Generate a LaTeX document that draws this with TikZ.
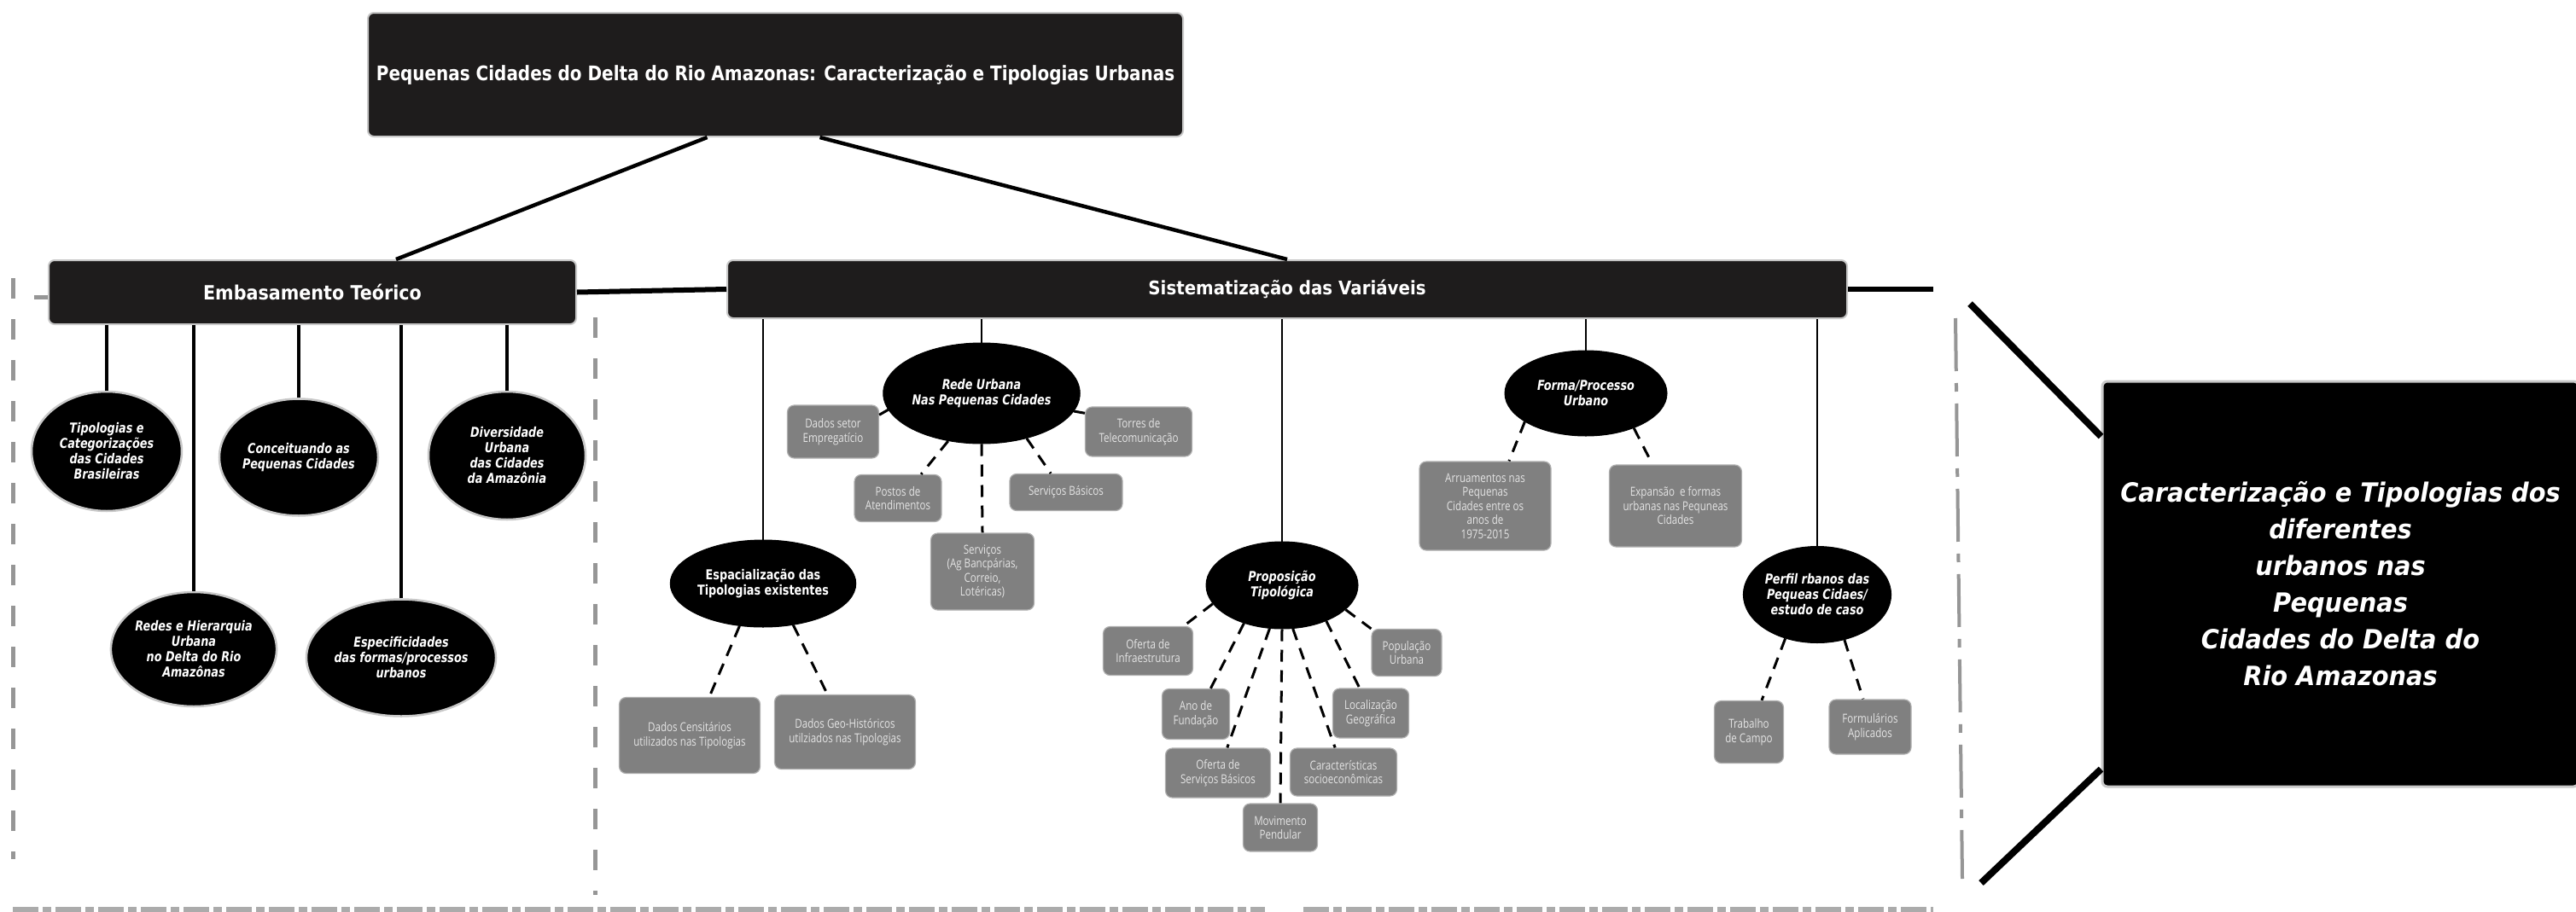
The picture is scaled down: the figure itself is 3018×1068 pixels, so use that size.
\documentclass[tikz,border=0pt]{standalone}
\usepackage{fontspec}
\setmainfont{DejaVu Sans}
\newfontfamily\hfont[FakeStretch=0.9]{DejaVu Sans}
\newfontfamily\tfont[FakeStretch=0.85]{DejaVu Sans}
\newfontfamily\efont[FakeStretch=0.8]{DejaVu Sans}
\newfontfamily\gfont[FakeStretch=0.8]{Open Sans}
\newfontfamily\rfont[FakeStretch=0.93]{DejaVu Sans}
\usetikzlibrary{shapes.geometric,calc}
\definecolor{boxdark}{RGB}{30,28,28}
\definecolor{outl}{RGB}{200,200,200}
\definecolor{gfill}{RGB}{128,128,128}
\definecolor{gline}{RGB}{175,175,175}
\definecolor{gtext}{RGB}{228,228,228}
\definecolor{dashgray}{RGB}{150,150,150}
\tikzset{
  hdr/.style={rectangle, draw=outl, line width=2pt, fill=boxdark, rounded corners=7pt, text=white, inner sep=0pt, align=center},
  ell/.style={ellipse, fill=black, draw=outl, line width=2.5pt, inner sep=0pt, text=white, align=center, font=\efont\bfseries\itshape\fontsize{16}{18}\selectfont},
  ellb/.style={ellipse, fill=black, draw=black, line width=1pt, inner sep=0pt, text=white, align=center, font=\efont\bfseries\itshape\fontsize{16}{18}\selectfont},
  gbox/.style={rectangle, rounded corners=8pt, fill=gfill, draw=gline, line width=1.2pt, text=gtext, inner sep=0pt, align=center, font=\gfont\fontsize{14.5}{16.5}\selectfont},
  conA/.style={line width=3.5pt, black},
  conB/.style={line width=2.5pt, black},
  dcon/.style={line width=3pt, black, dash pattern=on 14pt off 10pt},
  grayline/.style={line width=5pt, dashgray, dash pattern=on 24pt off 24pt}
}
\begin{document}
\begin{tikzpicture}[x=1pt,y=-1pt]
\clip (0,0) rectangle (3018,1068);
\fill[white] (0,0) rectangle (3018,1068);

% frame lines (decorative)
\draw[grayline] (15,326) -- (15,1007);
\draw[grayline] (697,372) -- (697,1049);
\draw[line width=4pt, dashgray, dash pattern=on 62pt off 14pt on 10pt off 14pt] (2291,373) -- (2299,1030);
\draw[line width=7pt, dashgray!80, dash pattern=on 30pt off 5pt on 10pt off 5pt] (15,1066) -- (1482,1066);
\draw[line width=7pt, dashgray!80, dash pattern=on 30pt off 5pt on 10pt off 5pt] (1527,1066) -- (2265,1066);

% main boxes
\node[hdr, minimum width=955pt, minimum height=145pt, font=\tfont\bfseries\fontsize{23.5}{27}\selectfont] (title) at (908.5,87.5)
  {Pequenas Cidades do Delta do Rio Amazonas: Caracterização e Tipologias Urbanas};
\node[hdr, minimum width=618pt, minimum height=75pt, font=\hfont\bfseries\fontsize{23}{27}\selectfont] (emb) at (366,342.5) {Embasamento Teórico};
\node[hdr, minimum width=1312pt, minimum height=68pt, font=\hfont\bfseries\fontsize{22}{26}\selectfont] (sis) at (1508,339) {Sistematização das Variáveis};

\node[rectangle, fill=black, draw=outl, line width=3pt, rounded corners=6pt, minimum width=558pt, minimum height=475pt, inner sep=0pt, text=white, align=center,
  font=\rfont\bfseries\itshape\fontsize{31}{43}\selectfont] (rbox) at (2742,684.5)
  {Caracterização e Tipologias dos\\diferentes\\urbanos nas\\Pequenas\\Cidades do Delta do\\Rio Amazonas};

% top connectors
\draw[line width=4.5pt] ($(title.south)+(-80,0)$) -- ($(emb.north)+(98,0)$);
\draw[line width=4.5pt] ($(title.south)+(52,0)$) -- (sis.north);
\draw[line width=6pt] (emb.east) -- (sis.west);
\coordinate (sisend) at (2265,339);
\draw[line width=6.5pt] (sis.east) -- (sisend);
\coordinate (embdash) at (40,348);
\draw[line width=5pt, dashgray] (emb.west |- embdash) -- (embdash);

% lines to right box
\coordinate (u1) at (2308,356);
\coordinate (l1) at (2321,1035);
\draw[line width=8pt] (u1) -- ($(rbox.north west)+(0,66)$);
\draw[line width=8pt] (l1) -- ($(rbox.south west)+(0,-22)$);

% Embasamento children
\node[ell, minimum width=176pt, minimum height=140pt] (e1) at (125,529) {Tipologias e\\Categorizações\\das Cidades\\Brasileiras};
\node[ell, minimum width=188pt, minimum height=134pt] (e2) at (227,761) {Redes e Hierarquia\\Urbana\\no Delta do Rio\\Amazônas};
\node[ell, minimum width=186pt, minimum height=137pt] (e3) at (350,536) {Conceituando as\\Pequenas Cidades};
\node[ell, minimum width=206pt, minimum height=137pt] (e4) at (470,771) {Especificidades\\das formas/processos\\urbanos};
\node[ell, minimum width=184pt, minimum height=150pt] (e5) at (594,534) {Diversidade\\Urbana\\das Cidades\\da Amazônia};
\foreach \n in {e1,e2,e3,e4,e5} \draw[conA] (\n.north) -- (\n.north |- emb.south);

% Sistematizacao children
\node[ellb, minimum width=184pt, minimum height=102pt, font=\efont\bfseries\fontsize{16}{18}\selectfont] (s1) at (894,684) {Espacialização das\\Tipologias existentes};
\node[ellb, minimum width=200pt, minimum height=118pt] (s2) at (1150,461) {Rede Urbana\\Nas Pequenas Cidades};
\node[ellb, minimum width=178pt, minimum height=102pt] (s3) at (1502,686) {Proposição\\Tipológica};
\node[ellb, minimum width=190pt, minimum height=100pt] (s4) at (1858,461) {Forma/Processo\\Urbano};
\node[ellb, minimum width=172pt, minimum height=113pt] (s5) at (2129,697) {Perfil rbanos das\\Pequeas Cidaes/\\estudo de caso};
\foreach \n in {s1,s2,s3,s4,s5} \draw[conB] (\n.north) -- (\n.north |- sis.south);

% gray boxes
\node[gbox, minimum width=107pt, minimum height=62pt] (g1) at (976,506) {Dados setor\\Empregatício};
\node[gbox, minimum width=125pt, minimum height=58pt] (g2) at (1334,506) {Torres de\\Telecomunicação};
\node[gbox, minimum width=102pt, minimum height=55pt] (g3) at (1052,584) {Postos de\\Atendimentos};
\node[gbox, minimum width=132pt, minimum height=43pt] (g4) at (1249,577) {Serviços Básicos};
\node[gbox, minimum width=121pt, minimum height=90pt] (g5) at (1151,670) {Serviços\\(Ag Bancpárias,\\Correio,\\Lotéricas)};
\node[gbox, minimum width=165pt, minimum height=89pt] (g6) at (808,862) {Dados Censitários\\utilizados nas Tipologias};
\node[gbox, minimum width=165pt, minimum height=87pt] (g7) at (990,858) {Dados Geo-Históricos\\utilziados nas Tipologias};
\node[gbox, minimum width=105pt, minimum height=57pt] (g8) at (1345,763) {Oferta de\\Infraestrutura};
\node[gbox, minimum width=79pt, minimum height=59pt] (g9) at (1401,837) {Ano de\\Fundação};
\node[gbox, minimum width=123pt, minimum height=58pt] (g10) at (1427,906) {Oferta de\\Serviços Básicos};
\node[gbox, minimum width=87pt, minimum height=56pt] (g11) at (1500,970) {Movimento\\Pendular};
\node[gbox, minimum width=125pt, minimum height=56pt] (g12) at (1574,905) {Características\\socioeconômicas};
\node[gbox, minimum width=89pt, minimum height=58pt] (g13) at (1606,836) {Localização\\Geográfica};
\node[gbox, minimum width=82pt, minimum height=55pt] (g14) at (1648,765) {População\\Urbana};
\node[gbox, minimum width=154pt, minimum height=104pt] (g15) at (1740,593) {Arruamentos nas\\Pequenas\\Cidades entre os\\anos de\\1975-2015};
\node[gbox, minimum width=155pt, minimum height=96pt] (g16) at (1963,593) {Expansão \ e formas\\urbanas nas Pequneas\\Cidades};
\node[gbox, minimum width=81pt, minimum height=73pt] (g17) at (2049,858) {Trabalho\\de Campo};
\node[gbox, minimum width=96pt, minimum height=64pt] (g18) at (2191,852) {Formulários\\Aplicados};

% dashed connectors
\draw[dcon] (s2.190) -- (g1.20);
\draw[dcon] (s2.349) -- (g2.161);
\draw[dcon] (s2.235) -- (g3.46);
\draw[dcon] (s2.south) -- (g5.north);
\draw[dcon] (s2.315) -- (g4.129);
\draw[dcon] (s1.241) -- (g6.63);
\draw[dcon] (s1.306) -- (g7.115);
\draw[dcon] (s3.195) -- (g8.35);
\draw[dcon] (s3.225) -- (g9.60);
\draw[dcon] (s3.254) -- (g10.70);
\draw[dcon] (s3.south) -- (g11.north);
\draw[dcon] (s3.284) -- (g12.109);
\draw[dcon] (s3.321) -- (g13.114);
\draw[dcon] (s3.339) -- (g14.146);
\draw[dcon] (s4.205) -- (g15.62);
\draw[dcon] (s4.324) -- (g16.119);
\draw[dcon] (s5.234) -- (g17.68);
\draw[dcon] (s5.301) -- (g18.104);
\end{tikzpicture}
\end{document}
